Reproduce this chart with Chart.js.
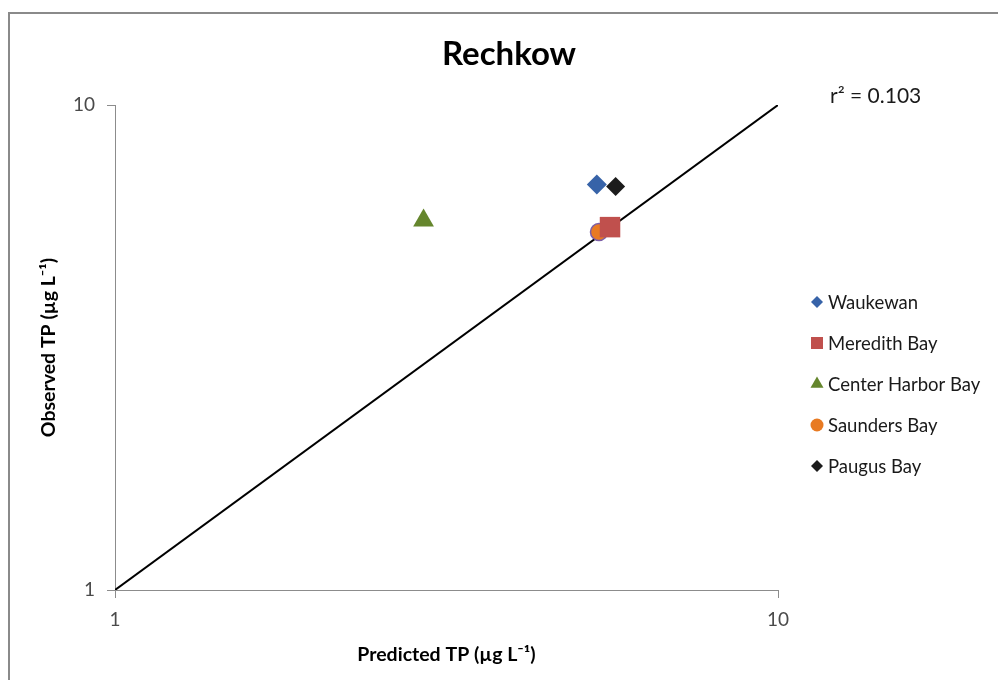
<!DOCTYPE html>
<html>
<head>
<meta charset="utf-8">
<script src="https://cdn.jsdelivr.net/npm/chart.js@4.4.1/dist/chart.umd.min.js"></script>
<style>
  html, body { margin: 0; padding: 0; background: #fff; }
  #wrap { width: 998px; height: 680px; position: relative; }
</style>
</head>
<body>
<div id="wrap"><canvas id="chart" width="998" height="680"></canvas></div>
<script>
// data (log-log, µg/L)
const seriesNames = ['Waukewan', 'Meredith Bay', 'Center Harbor Bay', 'Saunders Bay', 'Paugus Bay'];
const predictedTP = [5.33, 5.58, 2.92, 5.37, 5.69];
const observedTP = [6.86, 5.60, 5.78, 5.47, 6.79];
const oneToOneX = [1, 10];
const oneToOneY = [1, 10];
const axisTicks = [1, 10];
const rSquared = '0.103';

// styling per series
const markerStyles = ['rectRot', 'rect', 'triangle', 'circle', 'rectRot'];
const markerColors = ['#3763A8', '#C0504D', '#65862D', '#E87A22', '#1C1C1C'];
const markerBorders = ['#3763A8', '#C0504D', '#65862D', '#7B5EA7', '#1C1C1C'];
const markerRadius = [10, 14.5, 12, 8.5, 9.5];
const legendRadius = [6, 8.5, 7.5, 6.5, 6];

const FONT = 'Lato, "Open Sans", "DejaVu Sans", sans-serif';
const axisGray = '#8c8c8c';

const datasets = seriesNames.map((name, i) => ({
  label: name,
  data: [{ x: predictedTP[i], y: observedTP[i] }],
  pointStyle: markerStyles[i],
  backgroundColor: markerColors[i],
  borderColor: markerBorders[i],
  borderWidth: i === 3 ? 1.5 : 0,
  pointRadius: markerRadius[i],
  pointHoverRadius: markerRadius[i],
  showLine: false,
  order: 1
}));

datasets.push({
  label: '1:1',
  data: oneToOneX.map((x, i) => ({ x, y: oneToOneY[i] })),
  showLine: true,
  borderColor: '#000',
  borderWidth: 2,
  pointRadius: 0,
  fill: false,
  order: 2
});

function drawMarker(ctx, style, r, x, y) {
  if (Chart.helpers && Chart.helpers.drawPoint) {
    Chart.helpers.drawPoint(ctx, { pointStyle: style, radius: r, rotation: 0, borderWidth: 0 }, x, y);
    return;
  }
  ctx.beginPath();
  ctx.arc(x, y, r, 0, Math.PI * 2);
  ctx.fill();
}

const extras = {
  id: 'extras',
  beforeDraw(chart) {
    const ctx = chart.ctx;
    ctx.save();
    ctx.fillStyle = '#fff';
    ctx.fillRect(0, 0, chart.width, chart.height);
    // outer frame
    ctx.fillStyle = '#8a8a8a';
    ctx.fillRect(8, 12, chart.width, 2);
    ctx.fillRect(8, 12, 2, chart.height);
    ctx.restore();
  },
  afterDraw(chart) {
    const ctx = chart.ctx;
    ctx.save();
    ctx.fillStyle = '#000';
    ctx.textAlign = 'center';
    ctx.textBaseline = 'alphabetic';
    ctx.font = 'bold 33px ' + FONT;
    ctx.fillText('Rechkow', 509, 65);

    ctx.textAlign = 'left';
    ctx.font = '21px ' + FONT;
    ctx.fillStyle = '#1a1a1a';
    ctx.textBaseline = 'middle';
    ctx.fillText('r\u00B2 = ' + rSquared, 830, 96);

    // legend
    ctx.font = '18.5px ' + FONT;
    seriesNames.forEach((name, i) => {
      const y = 302 + i * 41;
      ctx.fillStyle = markerColors[i];
      drawMarker(ctx, markerStyles[i], legendRadius[i], 817, y);
      ctx.fillStyle = '#1a1a1a';
      ctx.fillText(name, 828, y + 1);
    });
    ctx.restore();
  }
};

const scaleBase = (titleText, pad) => ({
  type: 'logarithmic',
  min: 1,
  max: 10,
  afterBuildTicks: axis => { axis.ticks = axisTicks.map(v => ({ value: v })); },
  ticks: {
    color: '#4a4a4a',
    font: { family: FONT, size: 19 },
    padding: pad,
    autoSkip: false,
    callback: v => String(v)
  },
  grid: { drawOnChartArea: false, drawTicks: true, tickLength: 8, color: axisGray },
  border: { display: true, color: axisGray, width: 1 },
  title: {
    display: true,
    text: titleText,
    color: '#000',
    font: { family: FONT, size: 19.5, weight: 'bold' }
  }
});

const xScale = scaleBase('Predicted TP (\u00B5g L\u207B\u00B9)', 10);
xScale.title.padding = { top: 0, bottom: 14 };
xScale.afterFit = s => { s.height = 90; };

const yScale = scaleBase('Observed TP (\u00B5g L\u207B\u00B9)', 12);
yScale.title.padding = { top: 37, bottom: 0 };
yScale.afterFit = s => { s.width = 115; };

new Chart(document.getElementById('chart'), {
  type: 'scatter',
  data: { datasets },
  options: {
    responsive: false,
    animation: false,
    events: [],
    layout: { padding: { top: 105, right: 220, bottom: 0, left: 0 } },
    plugins: {
      legend: { display: false },
      title: { display: false },
      tooltip: { enabled: false }
    },
    scales: { x: xScale, y: yScale }
  },
  plugins: [extras]
});
</script>
</body>
</html>
